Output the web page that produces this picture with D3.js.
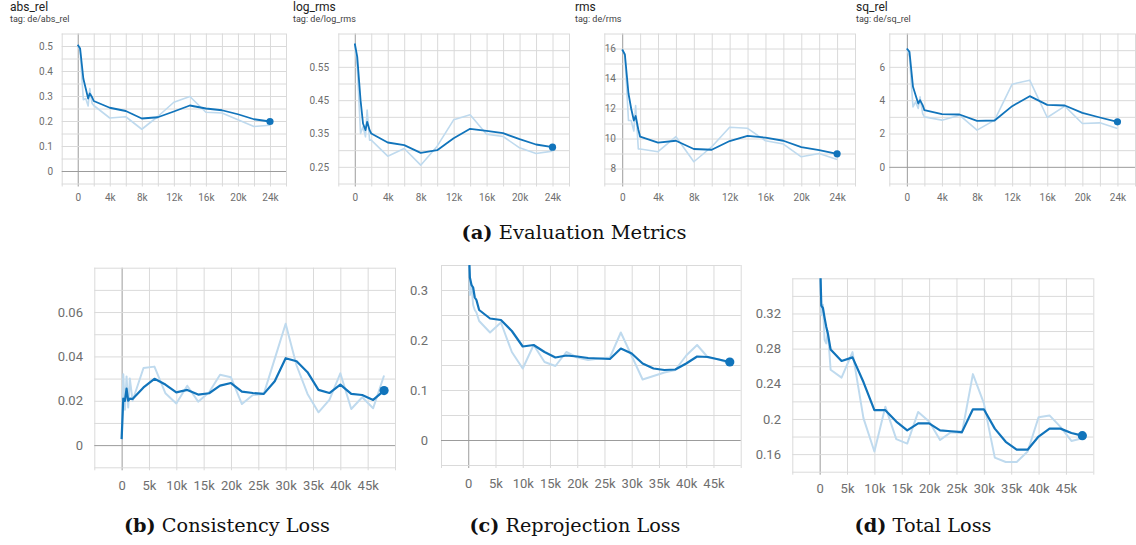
<!DOCTYPE html>
<html>
<head>
<meta charset="utf-8">
<script src="https://cdn.jsdelivr.net/npm/d3@7"></script>
<style>
  body { margin: 0; background: #fff; }
  svg { display: block; }
</style>
</head>
<body>
<svg id="chart" width="1136" height="545"></svg>
<script>
// ---- data ----
const topSteps = [0, 300, 700, 1000, 1300, 1500, 1800, 2000, 4000, 6000, 8000, 10000,
  12000, 14000, 16000, 18000, 20000, 22000, 24000];

const absRelSmooth = [0.505, 0.49, 0.37, 0.33, 0.29, 0.31, 0.295, 0.28, 0.253, 0.240, 0.210, 0.215,
  0.238, 0.262, 0.250, 0.243, 0.227, 0.207, 0.198];
const absRelRaw = [0.505, 0.48, 0.285, 0.29, 0.26, 0.33, 0.27, 0.262, 0.212, 0.217, 0.167, 0.218,
  0.275, 0.298, 0.235, 0.232, 0.205, 0.178, 0.183];

const logRmsSmooth = [0.62, 0.58, 0.45, 0.38, 0.36, 0.385, 0.36, 0.35, 0.323, 0.315, 0.292, 0.30,
  0.336, 0.364, 0.358, 0.351, 0.333, 0.317, 0.309];
const logRmsRaw = [0.62, 0.55, 0.35, 0.37, 0.34, 0.42, 0.33, 0.33, 0.282, 0.305, 0.255, 0.312,
  0.391, 0.406, 0.348, 0.341, 0.307, 0.29, 0.297];

const rmsSmooth = [15.93, 15.6, 13.0, 12.0, 11.2, 11.5, 10.6, 10.12, 9.72, 9.85, 9.3, 9.25,
  9.83, 10.17, 10.06, 9.85, 9.43, 9.23, 8.98];
const rmsRaw = [15.93, 15.5, 11.2, 11.2, 10.5, 12.2, 9.3, 9.3, 9.12, 10.12, 8.45, 9.45,
  10.75, 10.68, 9.85, 9.63, 8.78, 9.0, 8.6];

const sqRelSmooth = [7.1, 6.9, 4.8, 4.3, 3.8, 4.0, 3.7, 3.4, 3.16, 3.14, 2.76, 2.78,
  3.64, 4.24, 3.72, 3.68, 3.24, 2.96, 2.7];
const sqRelRaw = [7.1, 6.6, 3.6, 3.9, 3.5, 4.2, 3.2, 3.0, 2.8, 3.1, 2.2, 2.8,
  4.96, 5.2, 2.96, 3.64, 2.6, 2.64, 2.3];

const botSteps = [0, 300, 600, 900, 1200, 1500, 2000, 4000, 6000, 8000, 10000, 12000, 14000,
  16000, 18000, 20000, 22000, 24000, 26000, 28000, 30000, 32000, 34000, 36000, 38000,
  40000, 42000, 44000, 46000, 48000];

const consSmooth = [0.0027, 0.021, 0.02, 0.0255, 0.02, 0.021, 0.0208, 0.026, 0.0299, 0.0273,
  0.0238, 0.0249, 0.0228, 0.0234, 0.0268, 0.028, 0.0241, 0.0235, 0.0231, 0.0288, 0.0392,
  0.0378, 0.0329, 0.0249, 0.0235, 0.0273, 0.0231, 0.0226, 0.0204, 0.0246];
const consRaw = [0.0027, 0.032, 0.016, 0.031, 0.017, 0.030, 0.020, 0.0348, 0.0354, 0.0234,
  0.0188, 0.0268, 0.0196, 0.0238, 0.0317, 0.0306, 0.0185, 0.0226, 0.0231, 0.0389, 0.0547,
  0.0359, 0.0231, 0.0148, 0.0204, 0.0324, 0.0163, 0.0216, 0.0166, 0.0314];

const reprojSmooth = [0.42, 0.325, 0.31, 0.305, 0.285, 0.28, 0.26, 0.243, 0.24, 0.218, 0.187,
  0.19, 0.176, 0.165, 0.169, 0.167, 0.164, 0.163, 0.162, 0.183, 0.173, 0.153, 0.143, 0.14,
  0.141, 0.153, 0.167, 0.166, 0.161, 0.156];
const reprojRaw = [0.42, 0.29, 0.31, 0.27, 0.26, 0.255, 0.238, 0.215, 0.235, 0.176, 0.143,
  0.19, 0.156, 0.148, 0.176, 0.165, 0.160, 0.163, 0.165, 0.215, 0.168, 0.121, 0.128, 0.135,
  0.14, 0.169, 0.19, 0.165, 0.161, 0.153];

const totalSmooth = [0.40, 0.329, 0.326, 0.315, 0.305, 0.297, 0.279, 0.266, 0.27, 0.242, 0.21,
  0.21, 0.197, 0.187, 0.195, 0.195, 0.187, 0.186, 0.185, 0.211, 0.211, 0.189, 0.174, 0.165,
  0.165, 0.18, 0.189, 0.189, 0.184, 0.181];
const totalRaw = [0.40, 0.318, 0.33, 0.29, 0.286, 0.30, 0.256, 0.247, 0.276, 0.201, 0.163,
  0.214, 0.177, 0.172, 0.208, 0.197, 0.176, 0.185, 0.184, 0.251, 0.218, 0.156, 0.151, 0.151,
  0.163, 0.202, 0.204, 0.191, 0.175, 0.178];

// tick labels
const topXTicks = [0, 4000, 8000, 12000, 16000, 20000, 24000];
const botXTicks = [0, 5000, 10000, 15000, 20000, 25000, 30000, 35000, 40000, 45000];
const absRelYTicks = [0, 0.1, 0.2, 0.3, 0.4, 0.5];
const logRmsYTicks = [0.25, 0.35, 0.45, 0.55];
const rmsYTicks = [8, 10, 12, 14, 16];
const sqRelYTicks = [0, 2, 4, 6];
const consYTicks = [0, 0.02, 0.04, 0.06];
const reprojYTicks = [0, 0.1, 0.2, 0.3];
const totalYTicks = [0.16, 0.2, 0.24, 0.28, 0.32];

const captions = [
  {tag: "(a)", text: " Evaluation Metrics", x: 574, y: 239, w: 225},
  {tag: "(b)", text: " Consistency Loss", x: 227, y: 532, w: 206},
  {tag: "(c)", text: " Reprojection Loss", x: 575, y: 532, w: 211},
  {tag: "(d)", text: " Total Loss", x: 923, y: 532, w: 137}
];

const svg = d3.select("#chart");
const dark = "#1174bb";
const light = "#bfdaee";
const gridColor = "#dadada";
const zeroColor = "#9c9c9c";
const labelColor = "#6e6e6e";
const kFormat = d => d === 0 ? "0" : (d / 1000) + "k";

function range(a, b, s) {
  const out = [];
  for (let v = a; v <= b + s * 1e-6; v += s) out.push(+v.toFixed(6));
  return out;
}

let clipId = 0;
function panel(p) {
  const x = d3.scaleLinear().domain(p.xDomain).range([p.left, p.right]);
  const y = d3.scaleLinear().domain(p.yDomain).range([p.bottom, p.top]);
  const g = svg.append("g");

  // vertical grid, running a few px below the plot like ticks
  g.append("g")
    .attr("transform", `translate(0,${p.bottom + 3})`)
    .call(d3.axisBottom(x).tickValues(p.xGrid).tickSize(-(p.bottom + 3 - p.top)).tickFormat(""))
    .call(a => a.select(".domain").remove())
    .selectAll(".tick line")
    .attr("stroke", d => d === 0 ? zeroColor : gridColor);

  // horizontal grid
  g.append("g")
    .attr("transform", `translate(${p.left},0)`)
    .call(d3.axisLeft(y).tickValues(p.yGrid).tickSize(-(p.right - p.left)).tickFormat(""))
    .call(a => a.select(".domain").remove())
    .selectAll(".tick line")
    .attr("stroke", d => d === 0 ? zeroColor : gridColor);

  // bring zero lines to front
  g.selectAll(".tick line").filter(d => d === 0).each(function() {
    this.parentNode.parentNode.appendChild(this.parentNode);
  });

  // tick labels
  const xLab = g.append("g")
    .attr("transform", `translate(0,${p.xLabelY})`)
    .call(d3.axisBottom(x).tickValues(p.xTicks).tickSize(0).tickPadding(0).tickFormat(kFormat));
  xLab.select(".domain").remove();
  xLab.selectAll("text")
    .attr("font-family", "Roboto, sans-serif")
    .attr("font-size", p.fontSize)
    .attr("fill", labelColor)
    .attr("dy", "0.35em");

  const yLab = g.append("g")
    .attr("transform", `translate(${p.yLabelX},0)`)
    .call(d3.axisLeft(y).tickValues(p.yTicks).tickSize(0).tickPadding(0).tickFormat(d3.format("")));
  yLab.select(".domain").remove();
  yLab.selectAll("text")
    .attr("font-family", "Roboto, sans-serif")
    .attr("font-size", p.fontSize)
    .attr("fill", labelColor);

  // clip the series to the plot area
  const id = "clip" + (clipId++);
  svg.append("clipPath").attr("id", id)
    .append("rect")
    .attr("x", p.left).attr("y", p.top)
    .attr("width", p.right - p.left).attr("height", p.bottom - p.top);

  const line = d3.line().x(d => x(d[0])).y(d => y(d[1]));
  const rawData = p.steps.map((s, i) => [s, p.raw[i]]);
  const smoothData = p.steps.map((s, i) => [s, p.smooth[i]]);

  const series = g.append("g").attr("clip-path", `url(#${id})`);
  series.append("path")
    .datum(rawData)
    .attr("fill", "none")
    .attr("stroke", light)
    .attr("stroke-width", p.lw * 0.9)
    .attr("stroke-linejoin", "round")
    .attr("d", line);
  series.append("path")
    .datum(smoothData)
    .attr("fill", "none")
    .attr("stroke", dark)
    .attr("stroke-width", p.lw)
    .attr("stroke-linejoin", "round")
    .attr("d", line);

  const last = smoothData[smoothData.length - 1];
  g.append("circle")
    .attr("cx", x(last[0]))
    .attr("cy", y(last[1]))
    .attr("r", p.r)
    .attr("fill", dark);

  if (p.title) {
    g.append("text")
      .attr("x", p.titleX).attr("y", 11)
      .attr("font-family", "Roboto, sans-serif")
      .attr("font-size", 12)
      .attr("fill", "#212121")
      .text(p.title);
    g.append("text")
      .attr("x", p.titleX).attr("y", 22)
      .attr("font-family", "Roboto, sans-serif")
      .attr("font-size", 9)
      .attr("fill", "#424242")
      .text("tag: de/" + p.title);
  }
}

const topCommon = {
  xDomain: [-2000, 26000], xGrid: range(-2000, 26000, 2000), xTicks: topXTicks,
  steps: topSteps, fontSize: 10, lw: 1.8, r: 3.6, top: 33.5, bottom: 183.5, xLabelY: 197
};

panel(Object.assign({}, topCommon, {
  title: "abs_rel", titleX: 10, left: 61.7, right: 286, yLabelX: 53,
  yDomain: [-0.05, 0.55], yGrid: range(-0.05, 0.55, 0.05), yTicks: absRelYTicks,
  smooth: absRelSmooth, raw: absRelRaw
}));
panel(Object.assign({}, topCommon, {
  title: "log_rms", titleX: 293, left: 338.3, right: 569, yLabelX: 329,
  yDomain: [0.2, 0.65], yGrid: range(0.2, 0.65, 0.05), yTicks: logRmsYTicks,
  smooth: logRmsSmooth, raw: logRmsRaw
}));
panel(Object.assign({}, topCommon, {
  title: "rms", titleX: 575, left: 604.3, right: 855, yLabelX: 616,
  yDomain: [7, 17], yGrid: range(7, 17, 1), yTicks: rmsYTicks,
  smooth: rmsSmooth, raw: rmsRaw
}));
panel(Object.assign({}, topCommon, {
  title: "sq_rel", titleX: 856, left: 889.3, right: 1135, yLabelX: 885,
  yDomain: [-1, 8], yGrid: range(-1, 8, 1), yTicks: sqRelYTicks,
  smooth: sqRelSmooth, raw: sqRelRaw
}));

const botCommon = {
  xDomain: [-5000, 50000], xGrid: range(-5000, 50000, 5000), xTicks: botXTicks,
  steps: botSteps, fontSize: 13, lw: 2.2, r: 4.6
};

panel(Object.assign({}, botCommon, {
  left: 94.3, right: 395, top: 267.7, bottom: 467.3, xLabelY: 485, yLabelX: 83,
  yDomain: [-0.01, 0.08], yGrid: range(-0.01, 0.08, 0.01), yTicks: consYTicks,
  smooth: consSmooth, raw: consRaw
}));
panel(Object.assign({}, botCommon, {
  left: 441, right: 740.7, top: 265, bottom: 465, xLabelY: 483, yLabelX: 428,
  yDomain: [-0.05, 0.35], yGrid: range(-0.05, 0.35, 0.05), yTicks: reprojYTicks,
  smooth: reprojSmooth, raw: reprojRaw
}));
panel(Object.assign({}, botCommon, {
  left: 792.3, right: 1093.3, top: 278.3, bottom: 471.7, xLabelY: 488, yLabelX: 781,
  yDomain: [0.14, 0.36], yGrid: range(0.14, 0.36, 0.02), yTicks: totalYTicks,
  smooth: totalSmooth, raw: totalRaw
}));

// captions
captions.forEach(c => {
  const t = svg.append("text")
    .attr("x", c.x).attr("y", c.y)
    .attr("text-anchor", "middle")
    .attr("font-family", "'DejaVu Serif', serif")
    .attr("font-size", 19)
    .attr("fill", "#111")
    .attr("textLength", c.w)
    .attr("lengthAdjust", "spacingAndGlyphs");
  t.append("tspan").attr("font-weight", "bold").text(c.tag);
  t.append("tspan").text(c.text);
});
</script>
</body>
</html>
